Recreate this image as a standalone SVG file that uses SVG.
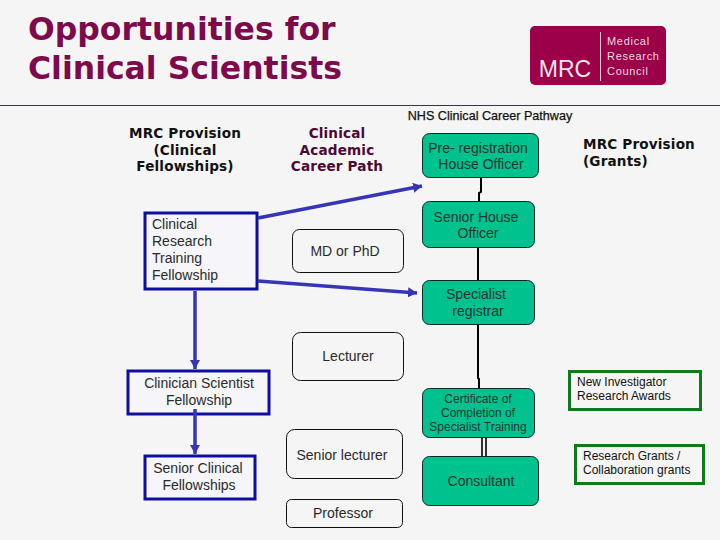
<svg xmlns="http://www.w3.org/2000/svg" width="720" height="540" viewBox="0 0 720 540">
<style>
text{font-family:"Liberation Sans",Arial,sans-serif;font-size:14px;fill:#2a2a2a;text-anchor:middle}
.h{font-family:"DejaVu Sans",sans-serif;font-weight:bold;font-size:13.6px;letter-spacing:.15px;fill:#111}
.t{font-family:"DejaVu Sans",sans-serif;font-weight:bold;font-size:31.5px;fill:#7d0a4b;text-anchor:start}
.l{text-anchor:start}
.s{font-size:12px;fill:#111}
.b rect{fill:#f6f6fa;stroke:#0e0ea0;stroke-width:3}
.w rect{fill:#f5f5f5;stroke:#111;stroke-width:1}
.g rect{fill:#00c28e;stroke:#0a2a22;stroke-width:1}
.g text{fill:#17372e}
.n rect{fill:#f5f5f5;stroke:#0e7a1c;stroke-width:3}
.k{fill:none;stroke:#000;stroke-width:2}
.a{fill:none;stroke:#3535b5;stroke-width:3.5;marker-end:url(#ah)}
</style>
<defs><marker id="ah" markerUnits="userSpaceOnUse" markerWidth="10" markerHeight="10" refX="9" refY="5" orient="auto"><path d="M0 0L9 5L0 10Z" fill="#3535b5"/></marker></defs>
<rect width="720" height="540" fill="#f5f5f5"/>
<g id="title"><text class="t" x="28" y="40">Opportunities for</text><text class="t" x="28" y="79">Clinical Scientists</text></g>
<g id="logo"><rect x="530" y="26" width="136" height="59" rx="5" fill="#9b0048"/><path d="M600.500 32V81" stroke="#e8c8d8" stroke-width="1"/><text x="565" y="77" style="font-size:23px;fill:#f4e4ec">MRC</text><text class="l" x="607" y="45" style="font-size:11px;fill:#f0d8e4;letter-spacing:.7px">Medical</text><text class="l" x="607" y="60" style="font-size:11px;fill:#f0d8e4;letter-spacing:.7px">Research</text><text class="l" x="607" y="75" style="font-size:11px;fill:#f0d8e4;letter-spacing:.7px">Council</text></g>
<path id="rule" d="M0 105.500H720" stroke="#8a0a45" stroke-width="1"/>
<text x="490" y="120" class="s" style="font-size:12.6px;stroke:#111;stroke-width:.25">NHS Clinical Career Pathway</text>
<g id="head-clinical"><text class="h" x="185" y="138">MRC Provision</text><text class="h" x="185" y="155">(Clinical</text><text class="h" x="185" y="171">Fellowships)</text></g>
<g id="head-academic"><text class="h" x="337" y="138" style="fill:#4a0a35">Clinical</text><text class="h" x="337" y="155" style="fill:#4a0a35">Academic</text><text class="h" x="337" y="171" style="fill:#4a0a35">Career Path</text></g>
<g id="head-grants"><text class="h l" x="583" y="149">MRC Provision</text><text class="h l" x="583" y="166">(Grants)</text></g>
<g id="crtf" class="b"><rect x="145" y="213" width="112" height="76"/><text class="l" x="152" y="229">Clinical</text><text class="l" x="152" y="246">Research</text><text class="l" x="152" y="263">Training</text><text class="l" x="152" y="280">Fellowship</text></g>
<g id="csf" class="b"><rect x="128" y="371" width="141" height="43"/><text x="199" y="388">Clinician Scientist</text><text x="199" y="405">Fellowship</text></g>
<g id="scf" class="b"><rect x="145" y="456" width="110" height="43"/><text x="198" y="473">Senior Clinical</text><text x="199" y="490">Fellowships</text></g>
<g id="md" class="w"><rect x="292.500" y="229.500" width="111" height="43" rx="7"/><text x="345" y="256">MD or PhD</text></g>
<g id="lecturer" class="w"><rect x="292.500" y="332.500" width="111" height="48" rx="8"/><text x="348" y="361">Lecturer</text></g>
<g id="senior-lecturer" class="w"><rect x="286.500" y="429.500" width="116" height="49" rx="8"/><text x="342" y="460">Senior lecturer</text></g>
<g id="professor" class="w"><rect x="286.500" y="499.500" width="116" height="28" rx="5"/><text x="343" y="518">Professor</text></g>
<g id="pre-reg" class="g"><rect x="422.500" y="133.500" width="116" height="44" rx="7"/><text x="478" y="153">Pre- registration</text><text x="481" y="169">House Officer</text></g>
<g id="sho" class="g"><rect x="422.500" y="201.500" width="112" height="46" rx="7"/><text x="476" y="222">Senior House</text><text x="478" y="238">Officer</text></g>
<g id="spr" class="g"><rect x="422.500" y="280.500" width="112" height="44" rx="7"/><text x="476" y="299">Specialist</text><text x="478" y="316">registrar</text></g>
<g id="cert" class="g"><rect x="422.500" y="388.500" width="112" height="49" rx="7"/><text x="478" y="403" class="s">Certificate of</text><text x="478" y="417" class="s">Completion of</text><text x="478" y="431" class="s">Specialist Training</text></g>
<g id="consultant" class="g"><rect x="422.500" y="456.500" width="116" height="49" rx="7"/><text x="481" y="486">Consultant</text></g>
<g id="nira" class="n"><rect x="569.500" y="371.500" width="131" height="38"/><text class="l s" x="577" y="386">New Investigator</text><text class="l s" x="577" y="400">Research Awards</text></g>
<g id="rg" class="n"><rect x="575.500" y="445.500" width="128" height="38"/><text class="l s" x="583" y="460">Research Grants /</text><text class="l s" x="583" y="474">Collaboration grants</text></g>
<g id="connectors">
<path class="k" d="M481 178V192L479 193V201"/><path class="k" d="M478 248V280"/><path class="k" d="M478 325V378L479 379V388"/>
<path class="k" d="M482 438V456M486 438V456" style="stroke-width:1.6"/>
<path class="a" d="M258 218L422 186"/><path class="a" d="M258 281L417 293"/><path class="a" d="M195 291V369"/><path class="a" d="M195 409V454"/>
</g>
</svg>
